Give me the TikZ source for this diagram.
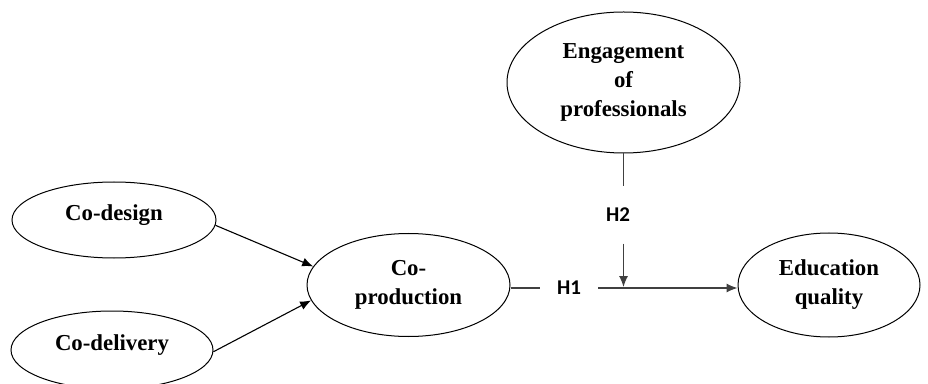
\documentclass[tikz,border=0pt]{standalone}
\usepackage{fontspec}
\setmainfont{Liberation Serif}
\newfontfamily\hfont{Carlito}
\usetikzlibrary{shapes.geometric,arrows.meta}
\tikzset{
  construct/.style={ellipse, draw=black, line width=1pt, inner sep=0pt, align=center,
    font=\bfseries\fontsize{22.8}{29}\selectfont},
  hyp/.style={inner sep=0pt, font=\hfont\bfseries\fontsize{21}{25}\selectfont},
  link/.style={line width=1.1pt, -{Latex[length=11pt,width=9pt]}},
  hline/.style={line width=1.1pt, draw=black!75},
}
\begin{document}
\begin{tikzpicture}[x=1pt,y=1pt]
\useasboundingbox (0,0) rectangle (928,383);
\node[construct, minimum width=204pt, minimum height=76pt] (cd) at (114,163) {\raisebox{5pt}[\height][\depth]{Co-design}};
\node[construct, minimum width=202pt, minimum height=78pt] (cdl) at (112,33) {\raisebox{5pt}[\height][\depth]{Co-delivery}};
\node[construct, minimum width=203pt, minimum height=103pt] (cp) at (408.5,98) {Co-\\production};
\node[construct, minimum width=182pt, minimum height=104pt] (eq) at (829,98) {Education\\quality};
\node[construct, minimum width=233pt, minimum height=141pt] (ep) at (623.5,300.5) {Engagement\\of\\professionals};
\node[hyp, inner xsep=17pt] (h1) at (569,95) {H1};
\node[hyp, minimum height=57pt] (h2) at (618,168) {H2};
\coordinate (j) at (623.5,96);
\draw[link] (cd.-3) -- (cp.169);
\draw[link] (cdl.-1) -- (cp.189);
\draw[hline] (cp.east |- h1.west) -- (h1.west);
\draw[hline, -{Latex[length=11pt,width=9pt]}] (h1.east) -- (h1.east -| eq.west);
\draw[hline] (ep.south) -- (ep.south |- h2.north);
\draw[hline, -{Latex[length=11pt,width=9pt]}] (ep.south |- h2.south) -- (j);
\end{tikzpicture}
\end{document}
